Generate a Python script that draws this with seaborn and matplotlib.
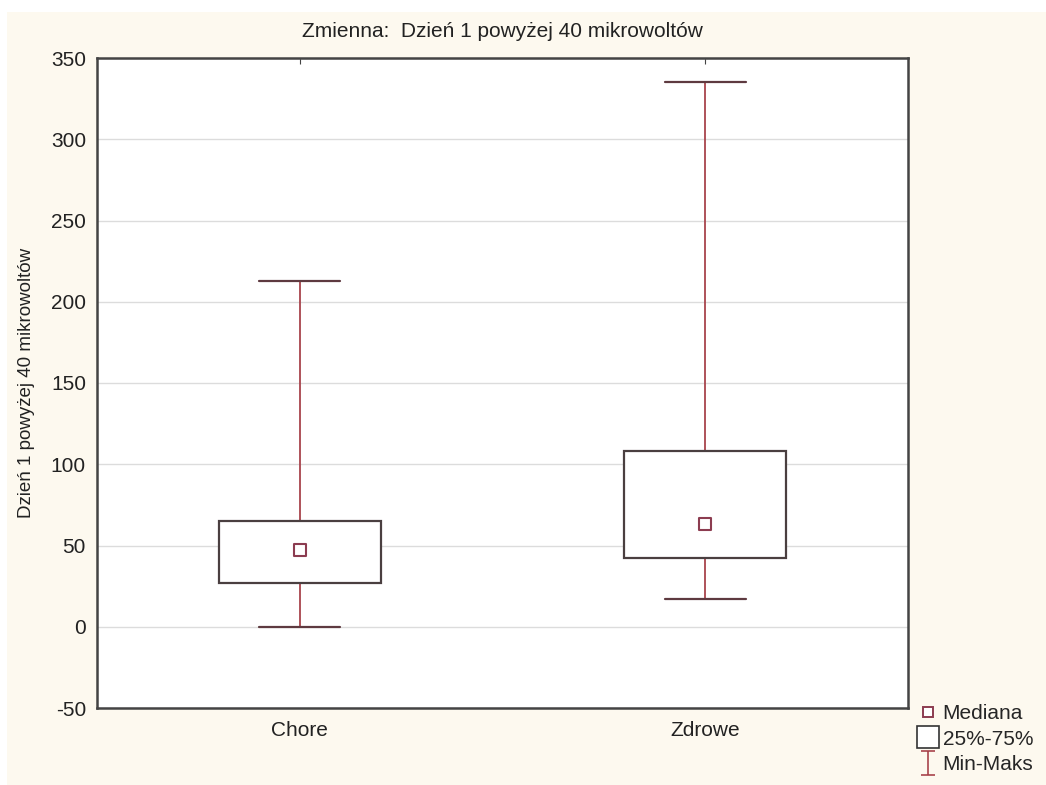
import matplotlib
matplotlib.use("Agg")
import matplotlib.pyplot as plt
from matplotlib.lines import Line2D
from matplotlib.path import Path
from matplotlib.patches import Rectangle
import pandas as pd
import seaborn as sns

# summary values
groups = ["Chore", "Zdrowe"]
minimum = [0, 17]
q1 = [27, 42.5]
median = [47, 63]
q3 = [65, 108]
maximum = [213, 335]

title = "Zmienna:  Dzień 1 powyżej 40 mikrowoltów"
ylabel = "Dzień 1 powyżej 40 mikrowoltów"
yticks = [-50, 0, 50, 100, 150, 200, 250, 300, 350]

# five points per group give exactly these quartiles and extremes
rows = []
for i, g in enumerate(groups):
    for v in (minimum[i], q1[i], median[i], q3[i], maximum[i]):
        rows.append({"grupa": g, "wartosc": v})
df = pd.DataFrame(rows)
med_df = pd.DataFrame({"grupa": groups, "wartosc": median})

sns.set_style("white")
plt.rcParams["font.family"] = ["Liberation Sans", "DejaVu Sans"]

box_col = "#4a3f40"
whisk_col = "#a8444c"
cap_col = "#5e3a40"
med_col = "#8c3c50"
cream = "#fdf9ef"
text_col = "#222222"

fig = plt.figure(figsize=(10.46, 7.85), dpi=100, facecolor="white")
fig.patches.append(Rectangle((7 / 1046, -0.02), 1.02, 1.02 - 12 / 785, transform=fig.transFigure,
                             facecolor=cream, edgecolor="none", zorder=-10))
ax = fig.add_axes([97 / 1046, 1 - 708 / 785, 811 / 1046, 650 / 785])
ax.set_facecolor("white")

sns.boxplot(
    data=df, x="grupa", y="wartosc", ax=ax, whis=(0, 100), width=0.4,
    showfliers=False, linecolor=box_col, linewidth=1.6,
    boxprops={"facecolor": "white", "edgecolor": box_col, "zorder": 3},
    whiskerprops={"color": whisk_col, "linewidth": 1.3},
    capprops={"color": cap_col, "linewidth": 1.6},
    medianprops={"visible": False},
)

sns.scatterplot(data=med_df, x="grupa", y="wartosc", ax=ax, marker="s", s=80,
                facecolor="white", edgecolor=med_col, linewidth=1.5, zorder=5)

ax.set_xlim(-0.5, 1.5)
ax.set_ylim(-50, 350)
ax.set_yticks(yticks)
ax.set_yticklabels([str(t) for t in yticks])
ax.grid(axis="y", color="#dcdcdc", linewidth=1.0)
ax.set_axisbelow(True)
ax.tick_params(axis="both", direction="in", length=4, color="#444444",
               labelsize=15, labelcolor=text_col, top=True, right=False)
ax.tick_params(axis="y", pad=8)
ax.tick_params(axis="x", pad=9)
for s in ax.spines.values():
    s.set_color("#444444")
    s.set_linewidth(1.8)

ax.set_xlabel("")
ax.set_ylabel(ylabel, fontsize=13.5, color=text_col, labelpad=11)
ax.set_title(title, fontsize=15, color=text_col, pad=15)

# legend handles
ibar = Path([(-0.6, 1), (0.6, 1), (0, 1), (0, -1), (-0.6, -1), (0.6, -1)],
            [Path.MOVETO, Path.LINETO, Path.MOVETO, Path.LINETO, Path.MOVETO, Path.LINETO])
handles = [
    Line2D([], [], linestyle="none", marker="s", markersize=7, markerfacecolor="white",
           markeredgecolor=med_col, markeredgewidth=1.4),
    Line2D([], [], linestyle="none", marker="s", markersize=16, markerfacecolor="white",
           markeredgecolor="#333333", markeredgewidth=1.2),
    Line2D([], [], linestyle="none", marker=ibar, markersize=17, markerfacecolor="none",
           markeredgecolor=whisk_col, markeredgewidth=1.2),
]
fig.legend(handles, ["Mediana", "25%-75%", "Min-Maks"], loc="lower left",
           bbox_to_anchor=(903 / 1046, -4 / 785), frameon=False, fontsize=15,
           handlelength=1.0, handletextpad=0.2, labelspacing=0.32, borderpad=0.2)

fig.savefig("out.png", dpi=100, facecolor=fig.get_facecolor())
